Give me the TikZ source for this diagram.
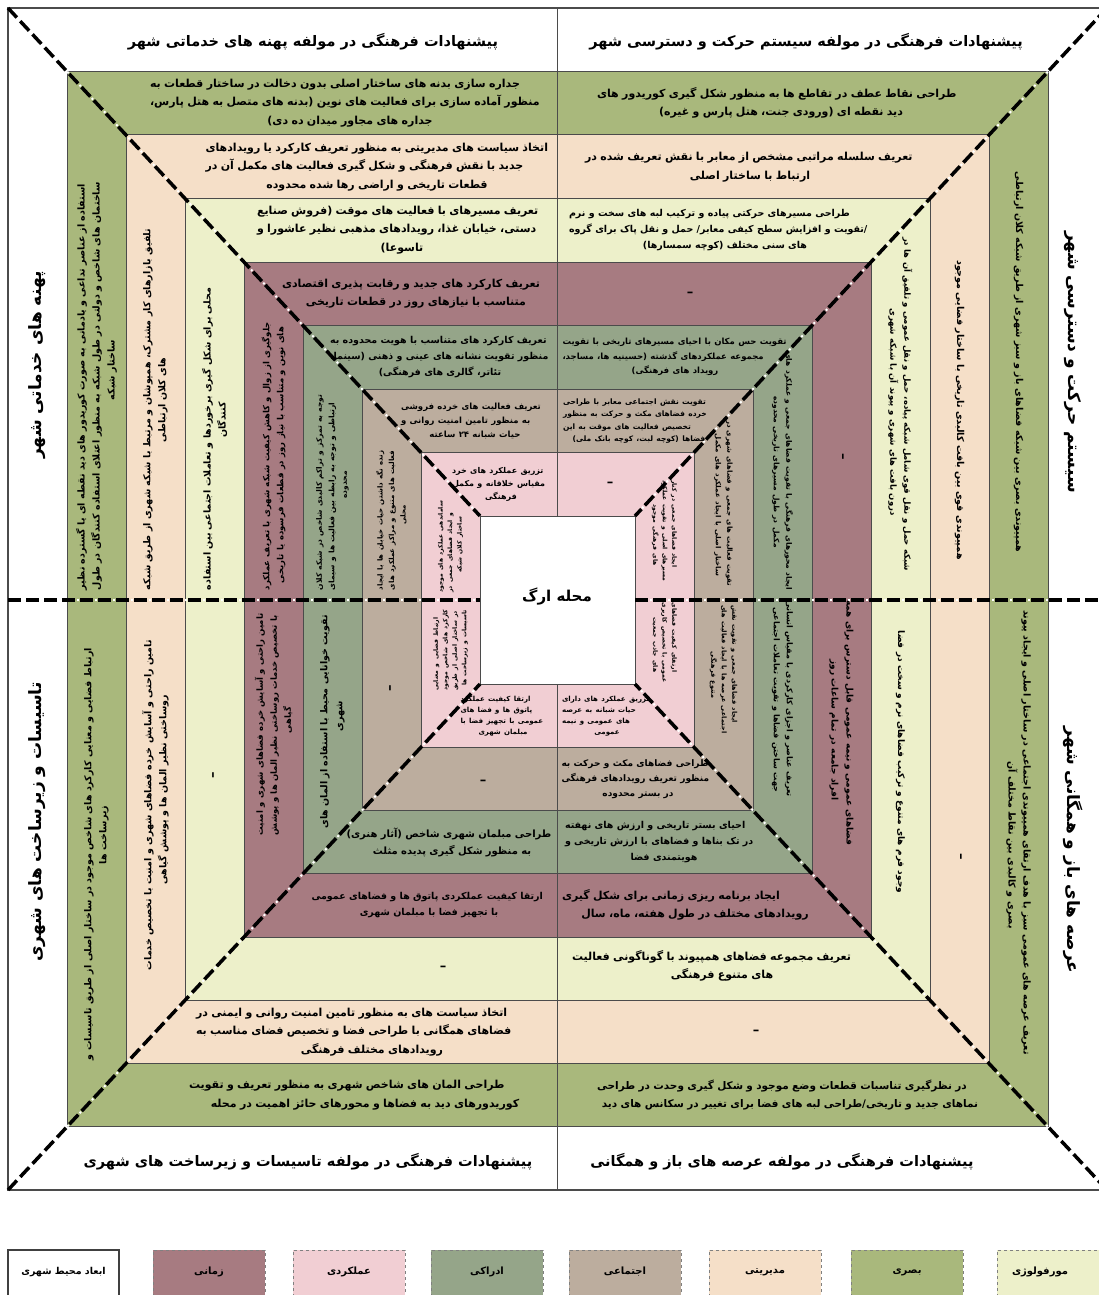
\documentclass[tikz,border=0pt]{standalone}
\usepackage{fontspec}
\newfontfamily\fafont[Script=Arabic]{DejaVu Sans}
\TeXXeTstate=1
\definecolor{cGreen}{RGB}{169,184,124}
\definecolor{cPeach}{RGB}{245,223,200}
\definecolor{cYellow}{RGB}{237,240,202}
\definecolor{cMauve}{RGB}{167,123,129}
\definecolor{cGG}{RGB}{149,165,137}
\definecolor{cBeige}{RGB}{188,173,158}
\definecolor{cPink}{RGB}{241,206,211}
\definecolor{cLine}{RGB}{75,75,75}
\newcommand\fa[3]{{\fontsize{#1}{#2}\selectfont\fafont\bfseries\tolerance=9999\emergencystretch=2em\hbadness=10000\leftskip=0pt plus 0.5fil\rightskip=0pt plus -0.5fil\parfillskip=0pt plus 1fil\noindent #3\par}}
\newcommand\ttl[2]{{\fontsize{#1}{#1}\selectfont\fafont\bfseries #2}}
\newcommand\dsh{{\fontsize{13}{13}\selectfont\fafont\bfseries –}}
\tikzset{
  bt/.style={inner sep=0pt, text=black},
  ringline/.style={draw=cLine, line width=1pt},
  dl/.style={line width=3.5pt, dash pattern=on 13pt off 5pt, line cap=butt},
  dw/.style={white, line width=2pt, dash pattern=on 2pt off 16pt, dash phase=3pt},
  legbox/.style={minimum width=112pt, minimum height=50pt, inner sep=0pt, draw=gray, dashed, line width=1pt},
}
\begin{document}
\begin{tikzpicture}[x=1pt,y=-1pt]
\useasboundingbox (0,0) rectangle (1098,1295);
\fill[white] (0,0) rectangle (1098,1295);
% frame corners
\coordinate (F1) at (8,8);
\coordinate (F2) at (1107,8);
\coordinate (F3) at (1107,1190);
\coordinate (F4) at (8,1190);
\coordinate (C1) at (480,516);
\coordinate (C2) at (635,516);
\coordinate (C3) at (635,684);
\coordinate (C4) at (480,684);
\coordinate (ML) at (8,600);
\coordinate (MR) at (1107,600);
\coordinate (CL) at (480,600);
\coordinate (CR) at (635,600);
\coordinate (VT) at (557,8);
\coordinate (VB) at (557,1190);
\coordinate (VC1) at (557,516);
\coordinate (VC2) at (557,684);
\draw[cLine, line width=1.3pt] (F1) rectangle (F3);
% rings
\foreach \k/\c in {1/cGreen,2/cPeach,3/cYellow,4/cMauve,5/cGG,6/cBeige,7/cPink,8/white}{
  \pgfmathsetmacro\L{8+59*\k}
  \pgfmathsetmacro\T{8+63.5*\k}
  \pgfmathsetmacro\R{1107-59*\k}
  \pgfmathsetmacro\B{1190-63.25*\k}
  \filldraw[fill=\c, ringline] (\L,\T) rectangle (\R,\B);
}
\draw[cLine, line width=1pt] (VT) -- (VC1);
\draw[cLine, line width=1pt] (VC2) -- (VB);
% dashed dividers
\foreach \a/\b in {F1/C1,F2/C2,F3/C3,F4/C4,ML/CL,CR/MR}{
  \draw[dl] (\a) -- (\b);
  \draw[dw] (\a) -- (\b);
}
% center
\node[bt] (center) at (557,597) {\ttl{15}{\beginR محله ارگ\endR}};
% titles
\node[bt] (ttl) at (313,42) {\ttl{14.5}{\beginR پیشنهادات فرهنگی در مولفه پهنه های خدماتی شهر\endR}};
\node[bt] (ttr) at (806,42) {\ttl{14.5}{\beginR پیشنهادات فرهنگی در مولفه سیستم حرکت و دسترسی شهر\endR}};
\node[bt] (btl) at (308,1162) {\ttl{14.5}{\beginR پیشنهادات فرهنگی در مولفه تاسیسات و زیرساخت های شهری\endR}};
\node[bt] (btr) at (782,1162) {\ttl{14.5}{\beginR پیشنهادات فرهنگی در مولفه عرصه های باز و همگانی\endR}};
\node[bt, rotate=90] (slt) at (37,365) {\ttl{17}{\beginR پهنه های خدماتی شهر\endR}};
\node[bt, rotate=90] (slb) at (37,822) {\ttl{17}{\beginR تاسیسات و زیرساخت های شهری\endR}};
\node[bt, rotate=-90] (srt) at (1073,362) {\ttl{17}{\beginR سیستم حرکت و دسترسی شهر\endR}};
\node[bt, rotate=-90] (srb) at (1073,850) {\ttl{17}{\beginR عرصه های باز و همگانی شهر\endR}};
% top-left bands
\node[bt, text width=400pt] (tl1) at (350,103) {\fa{11}{18.5}{\beginR جداره سازی بدنه های ساختار اصلی بدون دخالت در ساختار قطعات به منظور آماده سازی برای فعالیت های نوین (بدنه های متصل به هتل پارس، جداره های مجاور میدان ده دی)\endR}};
\node[bt, text width=343pt] (tl2) at (377,167) {\fa{11}{18.5}{\beginR اتخاذ سیاست های مدیریتی به منظور تعریف کارکرد یا رویدادهای جدید با نقش فرهنگی و شکل گیری فعالیت های مکمل آن در قطعات تاریخی و اراضی رها شده محدوده\endR}};
\node[bt, text width=290pt] (tl3) at (402,230) {\fa{11}{18.5}{\beginR تعریف مسیرهای با فعالیت های موقت (فروش صنایع دستی، خیابان غذا، رویدادهای مذهبی نظیر عاشورا و تاسوعا)\endR}};
\node[bt, text width=268pt] (tl4) at (416,294) {\fa{11}{18}{\beginR تعریف کارکرد های جدید و رقابت پذیری اقتصادی متناسب با نیازهای روز در قطعات تاریخی\endR}};
\node[bt, text width=220pt] (tl5) at (440,357) {\fa{9.5}{16}{\beginR تعریف کارکرد های متناسب با هویت محدوده به منظور تقویت نشانه های عینی و ذهنی (سینما، تئاتر، گالری های فرهنگی)\endR}};
\node[bt, text width=148pt] (tl6) at (475,421) {\fa{8.5}{14}{\beginR تعریف فعالیت های خرده فروشی به منظور تامین امنیت روانی و حیات شبانه ۲۴ ساعته\endR}};
\node[bt, text width=98pt] (tl7) at (501,484) {\fa{8}{13}{\beginR تزریق عملکرد های خرد مقیاس خلاقانه و مکمل فرهنگی\endR}};
% top-right bands
\node[bt, text width=368pt] (tr1) at (781,103) {\fa{11}{18.5}{\beginR طراحی نقاط عطف در تقاطع ها به منظور شکل گیری کوریدور های دید نقطه ای (ورودی جنت، هتل پارس و غیره)\endR}};
\node[bt, text width=330pt] (tr2) at (750,167) {\fa{11}{18.5}{\beginR تعریف سلسله مراتبی مشخص از معابر با نقش تعریف شده در ارتباط با ساختار اصلی\endR}};
\node[bt, text width=312pt] (tr3) at (725,230) {\fa{9.5}{16}{\beginR طراحی مسیرهای حرکتی پیاده و ترکیب لبه های سخت و نرم /تقویت و افزایش سطح کیفی معابر/ حمل و نقل پاک برای گروه های سنی مختلف (کوچه سمسارها)\endR}};
\node[bt] (tr4) at (690,294) {\dsh};
\node[bt, text width=225pt] (tr5) at (675,357) {\fa{8.5}{14.5}{\beginR تقویت حس مکان با احیای مسیرهای تاریخی با تقویت مجموعه عملکردهای گذشته (حسینیه ها، مساجد، رویداد های فرهنگی)\endR}};
\node[bt, text width=152pt] (tr6) at (639,421) {\fa{7.5}{12.5}{\beginR تقویت نقش اجتماعی معابر با طراحی خرده فضاهای مکث و حرکت به منظور تخصیص فعالیت های موقت به این فضاها (کوچه لبت، کوچه بانک ملی)\endR}};
\node[bt] (tr7) at (610,484) {\dsh};
% bottom-left bands
\node[bt, text width=352pt] (bl1) at (365,1095) {\fa{11}{18.5}{\beginR طراحی المان های شاخص شهری به منظور تعریف و تقویت کوریدورهای دید به فضاها و محورهای حائز اهمیت در محله\endR}};
\node[bt, text width=352pt] (bl2) at (372,1032) {\fa{11}{18.5}{\beginR اتخاذ سیاست های به منظور تامین امنیت روانی و ایمنی در فضاهای همگانی با طراحی فضا و تخصیص فضای مناسب به رویدادهای مختلف فرهنگی\endR}};
\node[bt] (bl3) at (443,968) {\dsh};
\node[bt, text width=235pt] (bl4) at (429,905) {\fa{9.5}{16}{\beginR ارتقا کیفیت عملکردی پاتوق ها و فضاهای عمومی با تجهیز فضا با مبلمان شهری\endR}};
\node[bt, text width=211pt] (bl5) at (452,842) {\fa{10}{17}{\beginR طراحی مبلمان شهری شاخص (آثار هنری) به منظور شکل گیری پدیده مثلث\endR}};
\node[bt] (bl6) at (483,782) {\dsh};
\node[bt, text width=85pt] (bl7) at (503,716) {\fa{7}{11}{\beginR ارتقا کیفیت عملکرد پاتوق ها و فضا های عمومی با تجهیز فضا با مبلمان شهری\endR}};
% bottom-right bands
\node[bt, text width=386pt] (br1) at (790,1095) {\fa{10.5}{18}{\beginR در نظرگیری تناسبات قطعات وضع موجود و شکل گیری وحدت در طراحی نماهای جدید و تاریخی/طراحی لبه های فضا برای تغییر در سکانس های دید\endR}};
\node[bt] (br2) at (756,1032) {\dsh};
\node[bt, text width=300pt] (br3) at (722,966) {\fa{11}{18.5}{\beginR تعریف مجموعه فضاهای همپیوند با گوناگونی فعالیت های متنوع فرهنگی\endR}};
\node[bt, text width=266pt] (br4) at (695,905) {\fa{11}{18}{\beginR ایجاد برنامه ریزی زمانی برای شکل گیری رویدادهای مختلف در طول هفته، ماه، سال\endR}};
\node[bt, text width=198pt] (br5) at (664,842) {\fa{9.5}{16}{\beginR احیای بستر تاریخی و ارزش های نهفته در تک بناها و فضاهای با ارزش تاریخی و هویتمندی فضا\endR}};
\node[bt, text width=153pt] (br6) at (638,779) {\fa{9}{15}{\beginR طراحی فضاهای مکث و حرکت به منظور تعریف رویدادهای فرهنگی در بستر محدوده\endR}};
\node[bt, text width=90pt] (br7) at (607,716) {\fa{7}{11}{\beginR تزریق عملکرد های دارای حیات شبانه به عرصه های عمومی و نیمه عمومی\endR}};
% left-top bands
\node[bt, rotate=90, text width=440pt] (lt1) at (96.5,370) {\fa{9.5}{15}{\beginR استفاده از عناصر تداعی و یادمانی به صورت کوریدور های دید نقطه ای یا گسترده نظیر ساختمان های شاخص و دولتی در طول شبکه به منظور اعتلای استفاده کنندگان در طول ساختار شبکه\endR}};
\node[bt, rotate=90, text width=380pt] (lt2) at (155.5,400) {\fa{9.5}{15}{\beginR تلفیق بازارهای کار مشترک، همپوشان و مرتبط با شبکه شهری از طریق شبکه های کلان ارتباطی\endR}};
\node[bt, rotate=90, text width=340pt] (lt3) at (214.5,420) {\fa{9.5}{15}{\beginR محلی برای شکل گیری برخوردها و تعاملات اجتماعی بین استفاده کنندگان\endR}};
\node[bt, rotate=90, text width=270pt] (lt4) at (273.5,455) {\fa{8.5}{14}{\beginR جلوگیری از زوال و کاهش کیفیت شبکه شهری با تعریف عملکرد های نوین و متناسب با نیاز روز در قطعات فرسوده یا تاریخی\endR}};
\node[bt, rotate=90, text width=210pt] (lt5) at (332.5,485) {\fa{7.5}{12.5}{\beginR توجه به تمرکز و تراکم کالبدی شاخص در شبکه کلان ارتباطی و توجه به رابطه بین فعالیت ها و سیمای محدوده\endR}};
\node[bt, rotate=90, text width=150pt] (lt6) at (391.5,515) {\fa{7}{11.5}{\beginR زنده نگه داشتن حیات خیابان ها با ایجاد فعالیت های متنوع و مراکز عملکرد های محلی\endR}};
\node[bt, rotate=90, text width=95pt] (lt7) at (450.5,545) {\fa{6}{9.5}{\beginR ساماندهی عملکرد های موجود و ایجاد فضاهای جمعی در ساختار کلان شبکه\endR}};
% left-bottom bands
\node[bt, rotate=90, text width=450pt] (lb1) at (96.5,835) {\fa{9.5}{15}{\beginR ارتباط فضایی و معنایی کارکرد های شاخص موجود در ساختار اصلی از طریق تاسیسات و زیرساخت ها\endR}};
\node[bt, rotate=90, text width=360pt] (lb2) at (155.5,790) {\fa{9.5}{15}{\beginR تامین راحتی و آسایش خرده فضاهای شهری و امنیت با تخصیص خدمات روساختی نظیر المان ها و پوشش گیاهی\endR}};
\node[bt, rotate=90] (lb3) at (214.5,775) {\dsh};
\node[bt, rotate=90, text width=230pt] (lb4) at (273.5,720) {\fa{8.5}{14}{\beginR تامین راحتی و آسایش خرده فضاهای شهری و امنیت با تخصیص خدمات روساختی نظیر المان ها و پوشش گیاهی\endR}};
\node[bt, rotate=90, text width=225pt] (lb5) at (332.5,716) {\fa{9.5}{15}{\beginR تقویت خوانایی محیط با استفاده از المان های شهری\endR}};
\node[bt, rotate=90] (lb6) at (391.5,688) {\dsh};
\node[bt, rotate=90, text width=85pt] (lb7) at (450.5,648) {\fa{6}{9.5}{\beginR ارتباط فضایی و معنایی کارکرد های شاخص موجود در ساختار اصلی از طریق تاسیسات و زیرساخت ها\endR}};
% right-top bands
\node[bt, rotate=-90, text width=455pt] (rt1) at (1018.5,362) {\fa{9.5}{15}{\beginR همپیوندی بصری بین شبکه فضاهای باز و سبز شهری از طریق شبکه کلان ارتباطی\endR}};
\node[bt, rotate=-90, text width=370pt] (rt2) at (959.5,410) {\fa{9.5}{15}{\beginR همپیوندی قوی بین بافت کالبدی تاریخی با ساختار فضایی موجود\endR}};
\node[bt, rotate=-90, text width=350pt] (rt3) at (900.5,412) {\fa{8.5}{14}{\beginR شبکه حمل و نقل قوی شامل شبکه پیاده، حمل و نقل عمومی و تلفیق آن ها در درون بافت های شهری و پیوند آن با شبکه شهری\endR}};
\node[bt, rotate=-90] (rt4) at (841.5,457) {\dsh};
\node[bt, rotate=-90, text width=240pt] (rt5) at (782.5,472) {\fa{7.5}{12.5}{\beginR ایجاد محورهای فرهنگی با تقویت فضاهای جمعی و عملکرد های مکمل در طول مسیرهای تاریخی محدوده\endR}};
\node[bt, rotate=-90, text width=170pt] (rt6) at (723.5,505) {\fa{7}{11.5}{\beginR تقویت فعالیت های جمعی و فضاهای شهری در ساختار اصلی با ایجاد عملکرد های مکمل\endR}};
\node[bt, rotate=-90, text width=110pt] (rt7) at (664.5,535) {\fa{6}{9.5}{\beginR ایجاد فضاهای جمعی در کنار مسیرهای اصلی و تقویت عملکرد های فرهنگی موجود\endR}};
% right-bottom bands
\node[bt, rotate=-90, text width=470pt] (rb1) at (1018.5,845) {\fa{9.5}{15}{\beginR تعریف عرصه های عمومی سبز با هدف ارتقای همپیوندی اجتماعی در ساختار اصلی و ایجاد پیوند بصری و کالبدی بین نقاط مختلف آن\endR}};
\node[bt, rotate=-90] (rb2) at (959.5,857) {\dsh};
\node[bt, rotate=-90, text width=290pt] (rb3) at (900.5,762) {\fa{9}{14}{\beginR وجود فرم های متنوع و ترکیب فضاهای نرم و سخت در فضا\endR}};
\node[bt, rotate=-90, text width=260pt] (rb4) at (841.5,730) {\fa{9}{15}{\beginR فضاهای عمومی و نیمه عمومی قابل دسترس برای همه افراد جامعه در تمام ساعات روز\endR}};
\node[bt, rotate=-90, text width=200pt] (rb5) at (782.5,700) {\fa{8}{13}{\beginR تعریف عناصر و اجزای کارکردی با مقیاس انسانی جهت ساختن فضاها و تقویت تعاملات اجتماعی\endR}};
\node[bt, rotate=-90, text width=140pt] (rb6) at (723.5,675) {\fa{6.5}{10.5}{\beginR ایجاد فضاهای جمعی و تقویت نقش اجتماعی عرصه ها با ایجاد فعالیت های متنوع فرهنگی\endR}};
\node[bt, rotate=-90, text width=85pt] (rb7) at (664.5,645) {\fa{6}{9.5}{\beginR ارتقای کیفیت فضاهای عمومی با تخصیص کاربری های جاذب جمعیت\endR}};
% legend
\node[minimum width=111pt, minimum height=50pt, inner sep=0pt, draw=black!75, line width=1.5pt, fill=white] (lg1) at (63.5,1275) {};
\node[bt] (lt-1) at (63.5,1272) {\ttl{9.5}{\beginR ابعاد محیط شهری\endR}};
\node[legbox, fill=cMauve] (lg2) at (209,1275) {};
\node[bt] (lt-2) at (209,1272) {\ttl{10}{\beginR زمانی\endR}};
\node[legbox, fill=cPink] (lg3) at (349,1275) {};
\node[bt] (lt-3) at (349,1272) {\ttl{10}{\beginR عملکردی\endR}};
\node[legbox, fill=cGG] (lg4) at (487,1275) {};
\node[bt] (lt-4) at (487,1272) {\ttl{10}{\beginR ادراکی\endR}};
\node[legbox, fill=cBeige] (lg5) at (625,1275) {};
\node[bt] (lt-5) at (625,1272) {\ttl{10}{\beginR اجتماعی\endR}};
\node[legbox, fill=cPeach] (lg6) at (765,1275) {};
\node[bt] (lt-6) at (765,1272) {\ttl{10}{\beginR مدیریتی\endR}};
\node[legbox, fill=cGreen] (lg7) at (907,1275) {};
\node[bt] (lt-7) at (907,1272) {\ttl{10}{\beginR بصری\endR}};
\node[legbox, fill=cYellow] (lg8) at (1053,1275) {};
\node[bt] (lt-8) at (1040,1272) {\ttl{10}{\beginR مورفولوژی\endR}};
\end{tikzpicture}
\end{document}
